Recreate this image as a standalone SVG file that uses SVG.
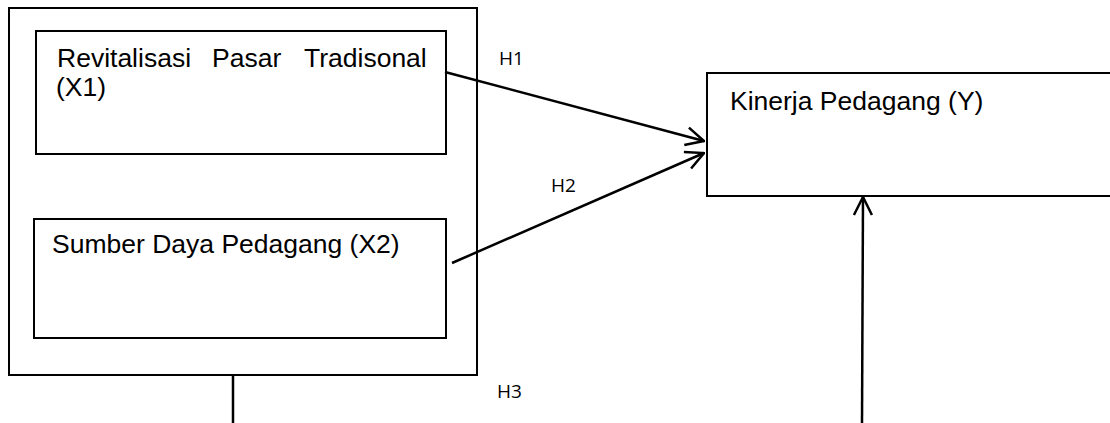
<svg xmlns="http://www.w3.org/2000/svg" width="1110" height="423" viewBox="0 0 1110 423">
<defs>
<style>
.box{fill:none;stroke:#000;stroke-width:2}
.lbl{font-family:"Liberation Sans",Arial,sans-serif;font-size:26.5px;fill:#000}
.h{font-family:"Open Sans","DejaVu Sans",sans-serif;font-size:19px;fill:#000}
.conn{fill:none;stroke:#000;stroke-width:2.5}
</style>
<marker id="arr" markerUnits="userSpaceOnUse" viewBox="0 0 20 22" refX="19" refY="11" markerWidth="20" markerHeight="22" orient="auto">
<path d="M1,2 L19,11 L1,20" fill="none" stroke="#000" stroke-width="2.5"/>
</marker>
</defs>
<rect width="1110" height="423" fill="#fff"/>
<g id="outer">
<rect class="box" x="9" y="8" width="468" height="367"/>
</g>
<g id="x1">
<rect class="box" x="36" y="31" width="410" height="123"/>
<text class="lbl" x="57" y="67">Revitalisasi</text>
<text class="lbl" x="212" y="67">Pasar</text>
<text class="lbl" x="304" y="67">Tradisonal</text>
<text class="lbl" x="56" y="96">(X1)</text>
</g>
<g id="x2">
<rect class="box" x="34" y="219" width="412" height="119"/>
<text class="lbl" x="52" y="253">Sumber Daya Pedagang (X2)</text>
</g>
<g id="y">
<rect class="box" x="707" y="73" width="420" height="123"/>
<text class="lbl" x="730" y="110">Kinerja Pedagang (Y)</text>
</g>
<g id="connectors">
<line class="conn" x1="445" y1="72" x2="704" y2="141" marker-end="url(#arr)"/>
<line class="conn" x1="452" y1="263" x2="704" y2="153" marker-end="url(#arr)"/>
<line class="conn" x1="233" y1="375" x2="233" y2="423"/>
<line class="conn" x1="862" y1="423" x2="863" y2="197" marker-end="url(#arr)"/>
</g>
<g id="labels">
<text class="h" x="499" y="65">H1</text>
<text class="h" x="551" y="192">H2</text>
<text class="h" x="497" y="398">H3</text>
</g>
</svg>
